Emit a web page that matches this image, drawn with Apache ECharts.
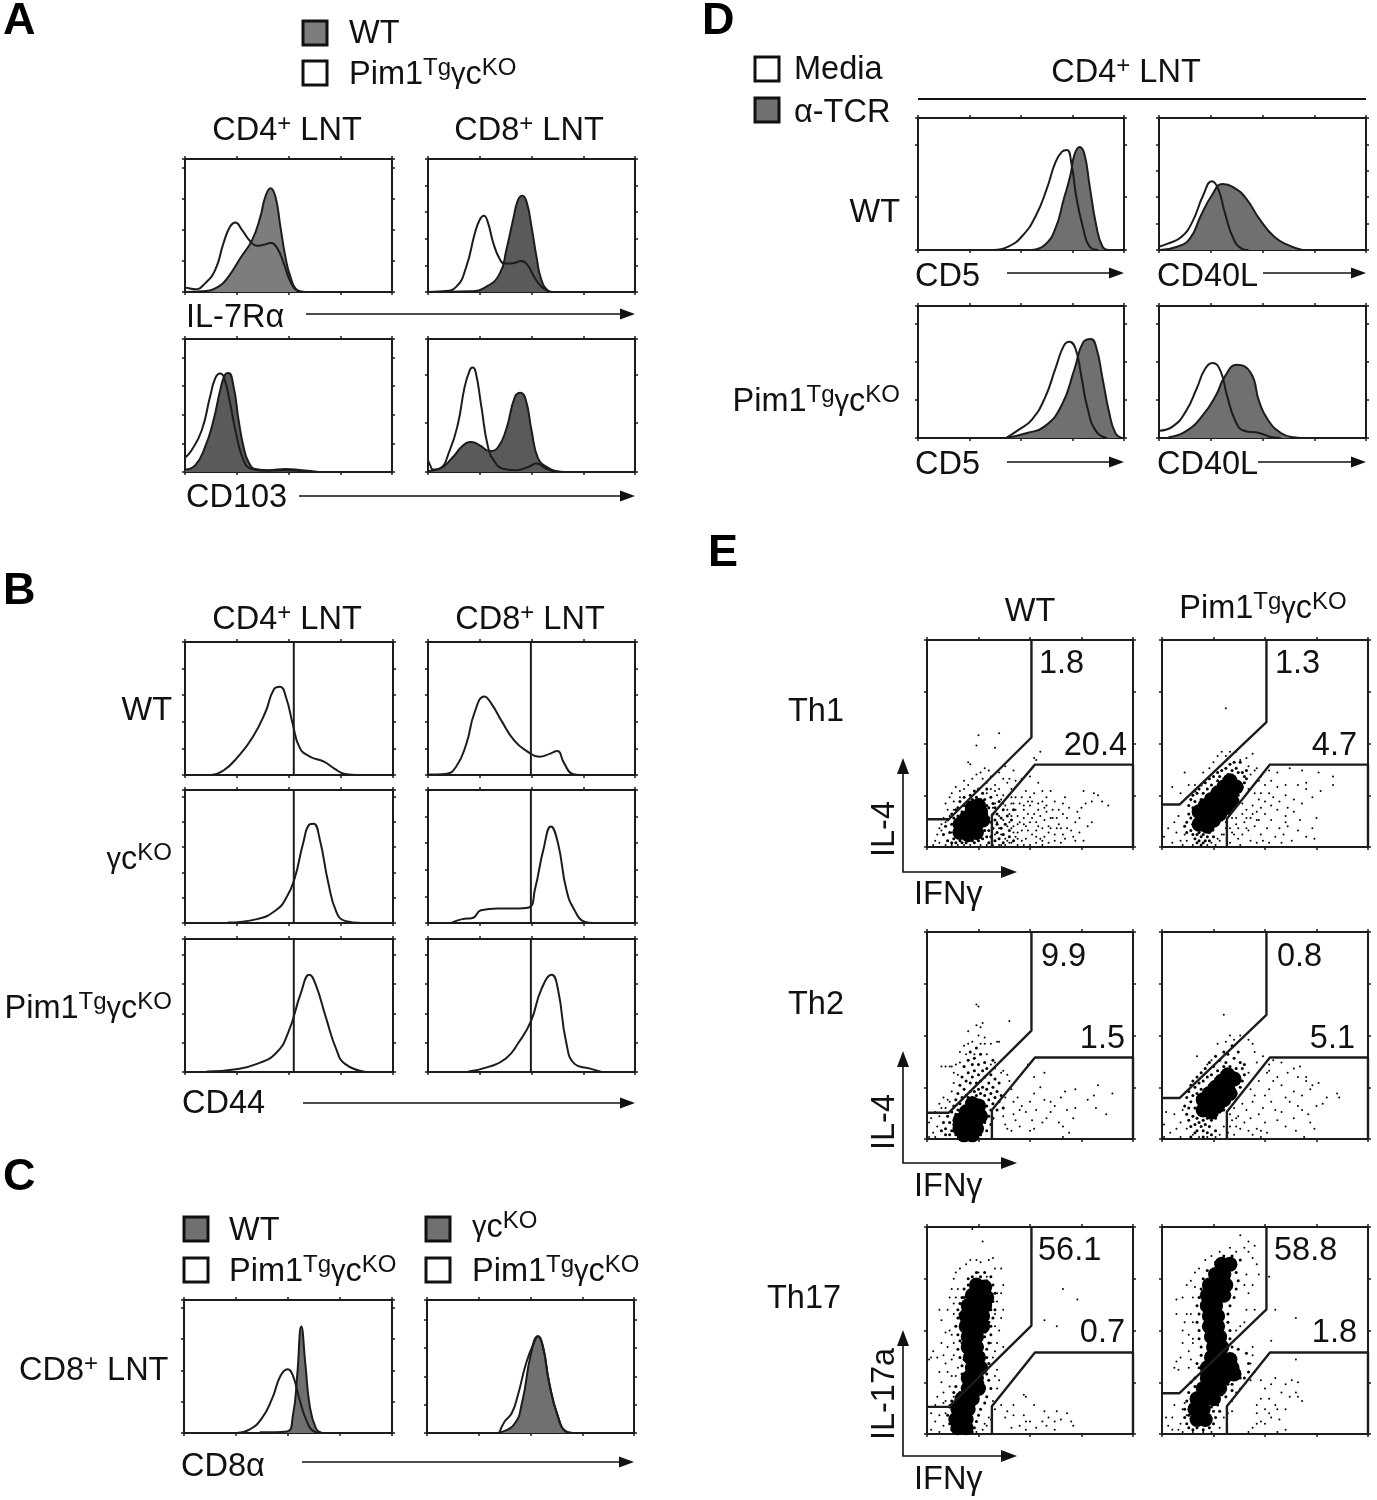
<!DOCTYPE html>
<html><head><meta charset="utf-8">
<style>html,body{margin:0;padding:0;background:#fff}#c{width:1377px;height:1500px}</style>
<script src="https://cdn.jsdelivr.net/npm/echarts@6/dist/echarts.min.js"></script>
</head><body><div id="c"></div>
<script>
// ---------- histogram curves, [x, y] (0-100 panel units)
const a1Fill=[[0,0],[8.1,.5],[16.2,4],[21,11.6],[26.7,25.4],[32.4,39],[36.4,56.5],[38.8,71.6],[41.3,78],[43.7,71.6],[46.1,49],[48.5,26.4],[50.9,11.6],[54.2,1.5],[58.2,0]];
const a1Line=[[0,3.5],[1.9,2.8],[4.9,2],[9.7,6.5],[14.6,16.6],[18.6,36.8],[21.8,49.2],[24.3,52.3],[27.5,46.7],[31.6,38],[34.8,34.7],[38,35.5],[41.3,36.8],[44.5,33],[47.7,21.6],[50.9,7.8],[54.2,.8],[56.6,0]];
const a2Fill=[[0,0],[20.2,.5],[28.2,4],[34.7,14],[37.9,32],[41.1,54.3],[43.5,69.3],[45.6,72.4],[47.6,68],[50,49.2],[52.4,26.6],[54.8,9],[58.1,1],[60.5,0]];
const a2Line=[[0,0],[7.3,.5],[13.7,4],[18.5,19],[22.6,44],[25,54.3],[27,57.3],[29,52],[31.5,37],[34.7,24.6],[37,21.4],[41.1,21.6],[45.2,23.4],[48.4,19.6],[51.6,10.5],[54.8,4],[58.1,.5],[60,0]];
const a3Fill=[[0,1.8],[4.9,5],[9.7,18.8],[13.8,39],[17,61.5],[19.4,73.4],[21,74.4],[23.5,64],[25.9,39],[28.3,18.8],[30.7,7.5],[34,2.3],[40.5,1.3],[48.5,2.3],[56.6,1.3],[64.7,0]];
const a3Line=[[0,10.8],[3.2,16.4],[8.1,31.4],[12.1,56.5],[14.6,70.4],[17,74],[19,70.4],[21.8,51.5],[25,26.4],[28.3,8.8],[31.6,2.5],[37.2,1],[48.5,1.3],[60,0]];
const a4Fill=[[0,.8],[5.6,2.5],[12.1,11.3],[16.9,20],[21,22.6],[25,20],[29.8,15.8],[33.9,18.8],[37.9,32.7],[42,56.5],[44.7,59.5],[47.3,54],[50,31.4],[53.2,10],[57.3,3.8],[62.1,.5],[66.1,0]];
const a4Line=[[0,8.8],[1.1,5],[2.4,1.8],[5.6,2.5],[10.5,16.3],[14.5,36.4],[17.7,64],[20.2,76.6],[21.5,78.6],[23,75.4],[25.8,49],[29,18.8],[32.3,7.5],[36.3,2.5],[42.7,1.3],[48.4,3.8],[52.4,6.3],[56.5,3],[60.5,.5],[64,0]];
const b11=[[12.5,0],[18.5,3.4],[25.6,14],[32.6,28.6],[38.6,47],[42.7,64.3],[45.7,66.4],[48.7,57.7],[51.7,39],[55.1,20.6],[59.8,14],[66.8,10],[71.8,4.8],[76.9,.8],[82.9,0]];
const b12=[[.4,.3],[8.5,.8],[13.5,6],[18.5,23.3],[22.5,47],[27.2,59],[30.6,53.7],[35.6,40.5],[41.6,26],[47.7,18],[53.7,13.8],[58.8,15.9],[62.4,18],[65.8,8.7],[69.8,.8],[73.8,0]];
const b21=[[20.5,.3],[34.6,2.9],[43.7,9.6],[48.7,18.9],[52.7,33.5],[56.8,60],[59.8,74],[61.8,74.7],[64.8,62.8],[68.8,30.9],[72.8,8.2],[76.9,1.6],[84.9,0]];
const b22=[[11.5,.3],[16.5,2.9],[21.5,3.7],[25.6,9.6],[33.6,10.9],[41.6,10.9],[48.7,11.7],[51.7,25.5],[55.7,54.8],[59.4,72.6],[62.8,60],[66.8,25.5],[70.8,9.6],[75.9,.8],[79.9,0]];
const b31=[[10.5,.3],[24.5,2.1],[34.6,6.1],[43.7,14.1],[49.7,30],[55.7,59.3],[59.8,73.1],[62.8,65.9],[67.8,40.7],[72.8,16.8],[76.9,6.1],[86.9,0]];
const b32=[[19.5,.3],[29.6,4],[37.6,10.1],[43.7,22],[49.7,38],[54.7,62],[59.8,73.1],[62.8,62],[66.8,22],[70.8,6.1],[77.9,2.7],[83.9,0]];
const c1Fill=[[36.4,.5],[49.4,1.2],[52.4,13.6],[54.4,43],[56.4,80],[58.4,51],[60.4,21],[63.4,3.7],[66.4,0]];
const c1Line=[[25.4,0],[31.4,2.5],[37.4,11],[42.4,26],[46.4,43],[49.8,48],[52.4,43],[55.4,26],[59.4,7.4],[62.4,1.2],[65.4,0]];
const c2Fill=[[33.9,0],[41.9,6.2],[46,23.5],[50,58],[53.6,72.8],[56,65],[59,38],[63,13.6],[67,1.2],[70.2,0]];
const c2Line=[[34.9,0],[37.5,8.6],[40.9,14.8],[43.9,28.4],[48,53],[52,69],[53.6,72.8],[56,65],[59,38],[63,13.6],[67,1.2],[70.2,0]];
const d1Fill=[[55.2,0],[61.5,3.8],[66.7,16.3],[70.8,38.8],[73.9,56],[76,72.5],[78.5,78],[80.8,72.5],[83.3,48.8],[86.5,18.8],[89.6,2.5],[92.7,0]];
const d1Line=[[36.5,0],[43.8,2.5],[51,11.3],[57.3,26.3],[62.5,46.3],[66.7,66.3],[69.8,74.3],[72.3,75.8],[74.4,66.3],[77,38.8],[80.2,16.3],[83.3,2.5],[87.5,0]];
const d2Fill=[[.4,0],[8.8,2.5],[15,8.8],[20.3,26.3],[25.5,41.3],[30.7,50],[36,47.5],[42.2,38.8],[48.4,23.8],[55.7,10],[63,3.3],[69.3,0]];
const d2Line=[[0,2.5],[4.6,5],[10.9,10],[16.1,21.3],[21.3,41.3],[25.5,52],[28.6,46.3],[31.7,28.8],[35.9,8.8],[39.7,1.3],[43.2,0]];
const d3Fill=[[42.7,0],[53,3.8],[61.5,8.8],[69.8,25],[76,52.5],[80.2,72.5],[83.9,75],[86.5,68.8],[89.6,45],[92.7,20],[95.8,3.8],[99,0]];
const d3Line=[[42.7,0],[49,6.3],[55.2,13.8],[61.5,30],[66.7,52.5],[70.8,70],[73.5,73],[76.5,67.5],[79.2,47.5],[82.3,22.5],[86.5,5],[91.7,0]];
const d4Fill=[[4.6,.5],[12.9,5],[21.3,17.5],[27.6,32.5],[31.7,46.3],[37.6,55.5],[44.3,49.5],[48.4,27.5],[52.6,13.8],[58.9,3.8],[65.1,.5],[69.3,0]];
const d4Line=[[0,5.5],[6.7,8.8],[12.9,20],[18.2,37.5],[22.3,52.5],[25.9,56.8],[29.6,51.3],[32.8,32.5],[37,12.5],[41.1,5.5],[48.4,3.8],[54.7,.5],[58.9,0]];

// ---------- flow cytometry dots, flat x,y lists estimated by eye (0-100 panel units)
const th1WtCore=[16,7,20,6,24,7,16,11,20,10,24,11,27,13,19,14,23,15,26,17,22,19,25,20];
const th1WtMid=[8,6,9,10,10,3,10,13,11,7,12,11,12,16,12,2,13,4,13,14,14,18,14,2,15,15,15,19,16,3,16,22,17,2,17,17,18,20,18,24,19,2,19,18,20,3,20,22,21,25,21,17,22,3,22,23,23,2,23,27,24,4,24,24,25,3,25,28,26,5,26,23,27,4,27,26,28,8,28,23,29,5,29,11,29,16,29,20,29,28,30,2,30,8,30,14,30,19,31,5,31,12,31,24,32,9,32,16,32,21,33,3,33,13,33,19,34,7,34,11,34,16,35,4,35,22,36,9,36,14,37,2,37,6,37,18,38,11,39,15,40,5,40,8,41,13,42,3,42,18];
const th1WtDots=[25,54,35,55,24,49,33,48,20,41,21,40,38,39,30,37,28,38,55,46,52,43,53,42,18,32,20,30,22,33,24,35,26,36,27,33,29,31,31,34,33,30,35,36,37,33,39,31,41,28,12,26,14,29,16,27,16,24,18,28,11,24,13,22,9,21,10,18,8,14,7,11,6,9,5,6,4,3,3,1,6,2,9,1,12,1,15,1,18,1,21,1,26,1,29,1,32,1,35,1,38,1,41,2,44,1,47,1,50,1,53,2,56,1,59,2,62,3,65,2,67,4,72,3,76,3,70,8,74,7,78,10,80,12,72,12,68,14,64,18,66,21,62,22,58,24,57,19,54,21,52,26,50,24,48,27,46,24,44,30,43,32,40,33,61,14,63,9,59,7,56,9,53,12,51,14,49,16,47,11,44,15,42,21,40,16,38,20,36,23,34,25,33,21,32,19,34,12,35,15,36,6,38,11,39,3,41,9,43,5,44,11,46,8,48,4,49,8,51,6,53,8,55,4,57,5,60,9,62,6,64,11,66,6,68,9,71,5,74,14,75,19,77,21,80,22,83,25,85,22,81,26,88,20,73,17,69,19,67,24,60,27,56,27,54,31,76,27,42,37,46,33,50,34,31,28,29,26,15,19,14,11,12,7,10,3,7,8,9,12,11,15,13,18,30,2,33,6,35,9,37,13,39,10,41,15,43,18,45,12,44,7,46,3,47,14,48,10,50,12,50,20,52,16,53,5,54,10,55,15,56,3,57,13,58,17,59,10,60,14,61,18,63,14,65,9,66,16,47,18,45,21,43,24,41,21,39,24,37,25,35,28,33,27,54,18,56,22,58,20,51,22,49,22,47,20,44,4,42,7,40,2,38,4,36,1,40,12,42,10,37,21,39,18,41,24];
const th1KoCore=[18,11,21,14,24,17,27,20,30,23,33,26,36,29,22,10,25,13,28,16,31,19,34,22,18,17,21,20,24,23,27,26,30,29,33,32];
const th1KoMid=[12,12,13,16,13,20,14,8,14,14,14,23,15,6,15,11,15,19,15,25,16,4,16,22,16,27,17,6,17,26,18,3,18,7,18,28,19,5,19,23,19,30,20,2,20,6,20,26,21,8,21,31,22,5,22,10,22,28,23,7,23,33,24,9,24,30,25,11,25,34,26,12,26,29,27,11,27,32,27,36,28,14,28,34,29,13,29,37,30,16,30,33,31,17,31,38,32,18,32,35,33,20,33,40,34,21,34,37,35,20,35,41,36,24,36,38,37,25,37,36,38,27,38,41,39,29,39,36,40,31,40,34,41,33,41,37,36,21,19,1,17,2,23,3,21,3,25,5,12,7,11,10];
const th1KoDots=[31,67,13,30,16,30,5,29,9,26,11,36,20,36,23,38,25,41,27,44,29,46,31,44,33,46,36,46,38,42,41,43,44,45,42,39,45,37,43,35,42,28,47,32,46,38,52,37,56,36,48,34,62,38,68,37,76,36,70,31,60,30,56,29,53,32,50,30,48,26,52,26,54,24,57,22,60,25,61,19,64,23,66,30,70,28,83,34,83,30,77,27,73,24,68,21,64,17,60,15,56,18,53,20,50,22,47,23,45,26,46,17,44,20,43,14,41,18,39,21,37,9,40,12,42,8,45,10,47,13,48,6,50,16,51,9,53,13,55,5,57,9,59,6,61,10,63,3,66,8,67,13,70,5,73,9,75,14,74,4,37,4,38,1,33,2,34,7,36,14,31,12,30,6,28,3,11,6,9,3,7,7,5,2,3,9,1,5,6,12,8,15,10,1,12,3,15,1,26,1,25,8,43,3,46,2,49,3,52,2,58,2,60,12,34,14,36,11,39,16,41,14,44,16,46,13,48,19,33,9,35,6,31,9,41,9,39,6,27,4,29,6,24,2,22,1];
const th2WtCore=[16,5,20,5,24,5,16,9,20,9,24,9,26,11,19,13,23,13,22,17,25,16,18,2,22,2];
const th2WtMid=[7,4,8,8,9,2,9,5,10,11,11,2,11,8,12,4,12,13,13,7,13,16,14,2,14,12,14,19,15,14,15,22,16,17,16,26,17,20,17,30,18,16,18,24,18,35,19,21,19,28,20,20,20,32,20,38,21,23,21,27,21,42,22,20,22,30,22,36,23,23,23,33,23,39,24,21,24,27,24,44,25,24,25,31,25,36,26,2,26,22,26,28,26,41,27,5,27,18,27,25,27,33,28,8,28,13,28,21,28,30,28,37,29,4,29,16,29,24,29,34,30,11,30,19,30,27,31,7,31,14,31,22,31,31,32,10,32,17,32,25,32,38,33,20,33,29,34,14,34,23,35,18,35,27,36,21,37,15];
const th2WtDots=[24,65,25,64,24,55,26,54,27,56,40,57,20,52,25,50,28,49,34,47,20,46,18,45,16,42,22,47,26,46,28,46,31,46,35,47,12,35,14,36,7,35,9,35,11,35,13,32,15,31,16,37,19,41,23,41,29,41,33,37,37,33,39,31,40,28,41,24,38,20,36,32,33,34,31,36,8,20,6,17,7,15,10,19,12,23,13,27,4,13,5,6,3,3,1,8,1,1,2,10,4,1,6,11,9,15,11,18,37,11,38,7,39,5,41,4,43,9,45,6,50,4,42,12,45,14,48,13,50,18,52,22,53,14,56,8,58,10,60,13,64,8,66,6,62,16,68,14,72,15,78,19,81,21,82,15,87,12,90,22,83,26,72,24,67,23,65,20,60,18,57,19,55,25,52,30,49,36,57,32,51,9,52,5,46,16,44,20,42,18,66,1,69,3,71,10];
const th2KoCore=[20,14,23,17,26,20,29,23,32,26,35,29,24,13,27,16,30,19,33,22,20,19,23,22,26,25,29,28,32,31];
const th2KoMid=[11,16,12,12,12,20,13,9,13,15,13,23,14,6,14,18,14,26,15,11,15,21,15,28,16,7,16,15,16,25,17,4,17,10,17,22,17,30,18,8,18,13,18,27,19,6,19,24,19,32,20,4,20,9,20,28,21,7,21,24,21,34,22,10,22,30,23,6,23,26,23,37,24,9,24,31,25,11,25,35,26,10,26,29,26,40,27,14,27,33,28,13,28,38,29,15,29,32,30,14,30,35,30,42,31,18,31,37,32,19,32,41,33,21,33,35,34,20,34,45,35,23,35,39,36,22,36,34,37,27,37,42,38,25,38,37,39,28,39,34,40,31,40,36,24,2,22,3,20,1,26,4,14,1,16,3];
const th2KoDots=[30,60,17,40,22,36,24,38,27,46,31,47,33,50,35,48,38,50,42,48,44,46,45,42,46,37,49,40,52,36,42,32,47,28,43,24,45,21,44,18,47,12,49,15,43,10,46,5,44,2,48,4,50,8,42,4,40,8,38,5,35,2,33,6,36,10,32,3,30,6,28,2,26,1,22,1,18,1,15,2,12,5,9,8,6,12,4,3,1,7,2,13,1,1,7,5,9,1,10,14,50,21,52,24,54,28,56,30,58,26,60,20,62,18,64,23,66,30,70,28,73,26,76,27,72,24,68,21,58,13,56,9,60,6,64,10,66,16,68,14,71,12,72,8,65,4,53,18,55,14,51,32,54,38,52,33,58,37,61,32,64,34,67,35,70,30,51,3,48,1,69,1,74,5,80,20,85,22,86,20,75,16,78,17,33,12,35,15,37,11,39,17,41,14,36,6,34,9];
const th17WtCore=[24,72,28,71,22,67,26,67,29,66,20,62,24,62,28,62,19,57,23,57,27,57,19,52,23,52,27,52,20,47,24,47,20,42,24,42,21,37,25,37,22,32,26,32,20,27,24,27,20,22,25,22,17,17,22,17,15,12,20,12,14,7,19,7,15,3,19,3];
const th17WtMid=[28,78,26,76,22,76,31,76,20,72,32,72,18,70,33,68,17,66,32,64,16,63,33,60,15,60,32,56,15,56,31,52,14,52,31,48,15,48,30,44,16,45,29,41,15,41,29,37,16,37,30,34,17,33,29,29,17,29,30,26,19,27,31,22,18,23,29,18,14,23,28,15,13,20,26,12,12,16,25,9,11,13,24,6,10,9,23,3,11,5,22,1,12,2,14,1,17,1,19,24,21,27,26,28,27,25,16,20,18,26,18,36,18,40,17,44,18,49,17,54,16,58,18,66,20,75,24,78,29,74,30,69,31,60,30,54,28,47,27,42,27,36,28,31];
const th17WtDots=[22,99,27,93,26,83,24,84,30,84,32,85,33,80,36,80,37,72,37,60,36,56,35,50,34,44,33,40,32,37,33,28,34,22,35,18,36,14,32,16,30,8,28,5,27,2,24,1,2,2,4,6,2,10,6,1,8,4,6,9,7,13,9,10,4,14,5,18,3,40,2,37,5,37,7,44,1,36,9,34,10,30,12,28,11,23,8,20,7,25,6,30,8,38,10,42,11,50,9,49,6,60,7,55,10,60,11,66,12,70,13,75,14,78,16,80,19,82,21,84,25,78,29,76,34,68,34,64,33,58,8,15,9,16,11,14,13,18,14,28,15,32,13,38,31,44,33,52,36,68,37,42,66,70,73,65,57,55,63,52,42,14,47,19,48,18,52,14,57,11,63,11,59,8,68,10,70,6,65,7,71,4,42,9,38,8,48,6,50,6,56,6,62,6,58,4,45,4,41,3,48,2,53,3,62,2,47,9,39,11,12,36,13,44,12,48,13,58,13,63,14,66,15,70,34,31,35,26,33,12,31,7,29,4];
const th17KoCore=[29,82,33,82,26,77,30,77,23,72,27,72,31,72,22,67,26,67,30,67,22,62,26,62,23,57,27,57,23,52,27,52,24,47,28,47,25,42,29,42,24,37,28,37,33,36,22,32,26,32,30,32,34,32,22,27,26,27,30,27,35,29,20,22,24,22,28,22,17,17,21,17,25,17,16,12,20,12,17,7,21,7];
const th17KoMid=[34,86,38,84,30,86,26,83,22,79,36,78,20,75,37,74,19,70,36,70,18,66,35,66,17,62,33,62,18,58,32,58,17,54,32,54,18,50,33,50,18,46,33,46,19,42,34,42,19,38,37,41,41,39,42,34,42,30,40,27,17,34,19,29,16,27,16,23,13,20,12,16,32,24,29,19,38,27,34,24,27,14,25,11,11,12,11,8,12,5,13,3,15,2,17,3,20,2,23,3,25,5,26,8,28,11,13,9,14,14,14,25,18,32,24,13,34,21,31,18];
const th17KoDots=[38,96,42,93,45,91,40,90,36,88,33,90,28,88,24,86,21,84,18,80,16,78,14,74,12,72,10,66,12,58,11,54,7,65,7,58,10,50,10,44,9,37,7,35,6,32,8,31,13,40,15,46,15,54,42,88,44,85,46,82,47,77,41,77,44,72,42,68,45,60,40,72,41,60,40,54,38,52,36,50,44,42,44,38,43,34,45,30,43,26,38,22,36,20,34,16,30,8,32,10,34,11,28,3,24,1,20,1,15,1,10,1,9,5,5,8,3,4,2,8,8,2,6,14,5,2,11,15,12,9,10,12,52,76,55,60,65,56,53,45,65,36,66,25,65,20,48,26,50,22,53,24,55,27,58,20,60,24,63,26,62,18,50,12,46,10,48,6,44,3,46,14,52,10,56,12,48,17,60,12,57,7,50,5,46,5,53,8,52,17,55,14,66,18,68,16,56,1,42,1,60,2,14,36,13,32,15,44,13,48,14,58,15,66,16,71];

// ---------- text and tick values
const topLegend=['WT','Pim1{s|Tg}{g|γ}{b|c}{s|KO}'];
const lntHeads=['CD4{s|+}{b| LNT}','CD8{s|+}{b| LNT}'];
const bRows=['WT','{g|γ}{b|c}{s|KO}','Pim1{s|Tg}{g|γ}{b|c}{s|KO}'];
const thRows=['Th1','Th2','Th17'];
const gatePercents=[['1.8','20.4','1.3','4.7'],['9.9','1.5','0.8','5.1'],['56.1','0.7','58.8','1.8']];
const aTicks=[23.3,20,21.5,36.7], bTicks=[20,20,19,20,22,22], cTicks=[23.5,21.3], dTicks=[40,20,28.8,28.8];

// ---------- layout
const ink='#1c1c1c', light='#7d7d7d', dark='#5a5a5a', mid='#707070';
const FONT='"Liberation Sans", Arial, sans-serif';
const grids=[],xAxes=[],yAxes=[],series=[];
function panel(l,t,w,h,yInt,ser){
  const g=grids.length;
  grids.push({left:l,top:t,width:w,height:h,containLabel:false,show:false});
  const common={min:0,max:100,type:'value',gridIndex:g,splitLine:{show:false},axisLabel:{show:false},
    axisLine:{show:true,onZero:false,lineStyle:{color:ink,width:2}},axisTick:{show:true,length:3,lineStyle:{color:ink,width:1.5}}};
  const xi=xAxes.length, yi=yAxes.length;
  xAxes.push({...common,interval:25,position:'bottom'},{...common,interval:25,position:'top'});
  yAxes.push({...common,interval:yInt,position:'left'},{...common,interval:yInt,position:'right'});
  ser.forEach(s=>series.push({...s,xAxisIndex:xi,yAxisIndex:yi}));
}
const fill=(d,c)=>({type:'line',data:d,smooth:.5,showSymbol:false,silent:true,lineStyle:{color:ink,width:2},areaStyle:{color:c,opacity:1},z:2});
const line=d=>({type:'line',data:d,smooth:.5,showSymbol:false,silent:true,lineStyle:{color:ink,width:2},z:3});
const vline=x=>({type:'line',data:[[x,0],[x,100]],showSymbol:false,silent:true,lineStyle:{color:ink,width:2},z:4});
const pairs=f=>{const o=[];for(let i=0;i<f.length;i+=2)o.push([f[i],f[i+1]]);return o;};
const scat=(f,size)=>({type:'scatter',data:pairs(f),symbolSize:size,silent:true,itemStyle:{color:'#000',opacity:1},z:2});
const gate=d=>({type:'line',data:d,showSymbol:false,silent:true,clip:false,lineStyle:{color:ink,width:2.4},z:5});

// A
panel(185,159,207,133,aTicks[0],[fill(a1Fill,light),line(a1Line)]);
panel(428,159,207,133,aTicks[1],[fill(a2Fill,dark),line(a2Line)]);
panel(185,339,207,133,aTicks[2],[fill(a3Fill,dark),line(a3Line)]);
panel(428,339,207,133,aTicks[3],[fill(a4Fill,dark),line(a4Line)]);
// B
[[642,b11,b12,0],[790,b21,b22,2],[939,b31,b32,4]].forEach(r=>{
  panel(185,r[0],208,133,bTicks[r[3]],[line(r[1]),vline(52.3)]);
  panel(428,r[0],207,133,bTicks[r[3]+1],[line(r[2]),vline(49.7)]);
});
// C
panel(184,1300,208,133,cTicks[0],[fill(c1Fill,mid),line(c1Line)]);
panel(427,1300,207,133,cTicks[1],[fill(c2Fill,mid),line(c2Line)]);
// D
panel(918,118,206,132,dTicks[0],[fill(d1Fill,mid),line(d1Line)]);
panel(1159,118,207,132,dTicks[1],[fill(d2Fill,mid),line(d2Line)]);
panel(918,306,206,132,dTicks[2],[fill(d3Fill,mid),line(d3Line)]);
panel(1159,306,207,132,dTicks[3],[fill(d4Fill,mid),line(d4Line)]);
// E
const upL=(a,b)=>[[0,a],[10.6,a],[50.7,b],[50.7,100]], upR=(a,b)=>[[0,a],[8.5,a],[50.7,b],[50.7,100]];
const lo=(a,b)=>[[31.5,0],[31.5,a],[52.4,b],[100,b],[100,0]];
const eRows=[
 [640,[th1WtCore,th1WtMid,th1WtDots],[th1KoCore,th1KoMid,th1KoDots],upL(13.4,52.9),lo(15.3,39.8),upR(20.5,60.3),lo(13.7,39.8)],
 [932,[th2WtCore,th2WtMid,th2WtDots],[th2KoCore,th2KoMid,th2KoDots],upL(12.7,52.4),lo(14,39.4),upR(19.8,60),lo(13.2,39.4)],
 [1227,[th17WtCore,th17WtMid,th17WtDots],[th17KoCore,th17KoMid,th17KoDots],upL(13.1,52.4),lo(13.4,39.4),upR(19.7,60.2),lo(13.4,39.4)]];
const sc=a=>[scat(a[0],15),scat(a[1],3),scat(a[2],2)];
eRows.forEach(r=>{
  panel(927,r[0],206,207,25,[...sc(r[1]),gate(r[3]),gate(r[4])]);
  panel(1162,r[0],206,207,25,[...sc(r[2]),gate(r[5]),gate(r[6])]);
});

// ---------- annotations
const G=[];
const TXT='#111';
const rich={b:{fontSize:32.5,fontFamily:FONT,fill:TXT},s:{fontSize:24,fontFamily:FONT,fill:TXT,verticalAlign:'top',lineHeight:38},
 g:{fontSize:29,fontFamily:FONT,fill:TXT}};
function norm(s){ // wrap leading plain text in the base style
  const i=s.indexOf('{');
  if(i<0) return '{b|'+s+'}';
  if(i===0) return s;
  return '{b|'+s.slice(0,i)+'}'+s.slice(i);
}
function T(txt,x,y,align,opt){
  opt=opt||{};
  const dy=opt.rot?0:2;
  G.push({type:'text',x,y:y+dy,rotation:opt.rot||0,z:20,silent:true,style:{text:norm(txt),align:align,verticalAlign:'middle',rich,
    fontFamily:FONT,fontSize:32.5,fill:TXT}});
}
function L(txt,x,y){G.push({type:'text',x,y:y+2,z:20,silent:true,style:{text:txt,align:'left',verticalAlign:'middle',fontFamily:FONT,fontSize:45,fontWeight:'bold',fill:'#000'}});}
function box(x,y,c){G.push({type:'rect',shape:{x,y,width:24,height:24},z:20,silent:true,style:{fill:c,stroke:'#111',lineWidth:3}});}
function arrow(x1,x2,y){
  G.push({type:'line',shape:{x1,y1:y,x2:x2-12,y2:y},z:20,silent:true,style:{stroke:'#111',lineWidth:1.6}});
  G.push({type:'polygon',shape:{points:[[x2,y],[x2-15,y-5.5],[x2-15,y+5.5]]},z:20,silent:true,style:{fill:'#111'}});
}
function axisCross(y0,y1){
  const x=903;
  G.push({type:'polyline',shape:{points:[[x,y1+14],[x,y0],[1005,y0]]},z:20,silent:true,style:{stroke:'#111',lineWidth:1.6,fill:null}});
  G.push({type:'polygon',shape:{points:[[x,y1],[x-6,y1+16],[x+6,y1+16]]},z:20,silent:true,style:{fill:'#111'}});
  G.push({type:'polygon',shape:{points:[[1017,y0],[1001,y0-6],[1001,y0+6]]},z:20,silent:true,style:{fill:'#111'}});
}
// panel A text
L('A',3,20);
box(303,21,light);box(303,61,'#fff');
T(topLegend[0],349,32,'left');T(topLegend[1],349,73,'left');
T(lntHeads[0],287,129,'center');T(lntHeads[1],529,129,'center');
T('IL-7Rα',186,316,'left');arrow(306,635,314);
T('CD103',186,496,'left');arrow(299,635,496);
// panel B text
L('B',3,590);
T(lntHeads[0],287,618,'center');T(lntHeads[1],530,618,'center');
T(bRows[0],172,709,'right');T(bRows[1],172,858,'right');T(bRows[2],172,1007,'right');
T('CD44',182,1102,'left');arrow(303,635,1103);
// panel C text
L('C',3,1176);
box(184,1217,mid);box(184,1258,'#fff');box(426,1217,mid);box(426,1258,'#fff');
T('WT',229,1229,'left');T(topLegend[1],229,1270,'left');
T(bRows[1],472,1226,'left');T(topLegend[1],472,1270,'left');
T(lntHeads[1],19,1369,'left');
T('CD8α',181,1465,'left');arrow(302,634,1462);
// panel D text
L('D',702,20);
box(755,57,'#fff');box(755,98,mid);
T('Media',794,68,'left');T('α-TCR',794,111,'left');
T(lntHeads[0],1126,71,'center');
G.push({type:'line',shape:{x1:918,y1:99,x2:1366,y2:99},z:20,silent:true,style:{stroke:'#111',lineWidth:2}});
T('WT',900,211,'right');T(bRows[2],900,400,'right');
T('CD5',915,275,'left');arrow(1007,1124,273);T('CD40L',1157,275,'left');arrow(1263,1366,273);
T('CD5',915,463,'left');arrow(1007,1124,462);T('CD40L',1157,463,'left');arrow(1258,1366,462);
// panel E text
L('E',708,552);
T('WT',1030,610,'center');T(bRows[2],1263,607,'center');
T(thRows[0],788,710,'left');T(thRows[1],788,1003,'left');T(thRows[2],767,1297,'left');
[[872,758,893,829,'IL-4'],[1163,1051,1185,1122,'IL-4'],[1456,1330,1478,1394,'IL-17a']].forEach(r=>{
  axisCross(r[0],r[1]);
  T('IFNγ',914,r[2],'left');
  T(r[4],885,r[3],'center',{rot:Math.PI/2});
});
[[662,744],[955,1037],[1249,1331]].forEach((ys,i)=>{
  const p=gatePercents[i];
  const lx=[[1039,1275],[1041,1277],[1038,1274]][i], rx=[[1127,1357],[1125,1355],[1125,1357]][i];
  T(p[0],lx[0],ys[0],'left');T(p[1],rx[0],ys[1],'right');
  T(p[2],lx[1],ys[0],'left');T(p[3],rx[1],ys[1],'right');
});

const chart=echarts.init(document.getElementById('c'),null,{renderer:'canvas'});
chart.setOption({animation:false,backgroundColor:'#fff',tooltip:{show:false},grid:grids,xAxis:xAxes,yAxis:yAxes,series,graphic:{elements:G}});
</script></body></html>
